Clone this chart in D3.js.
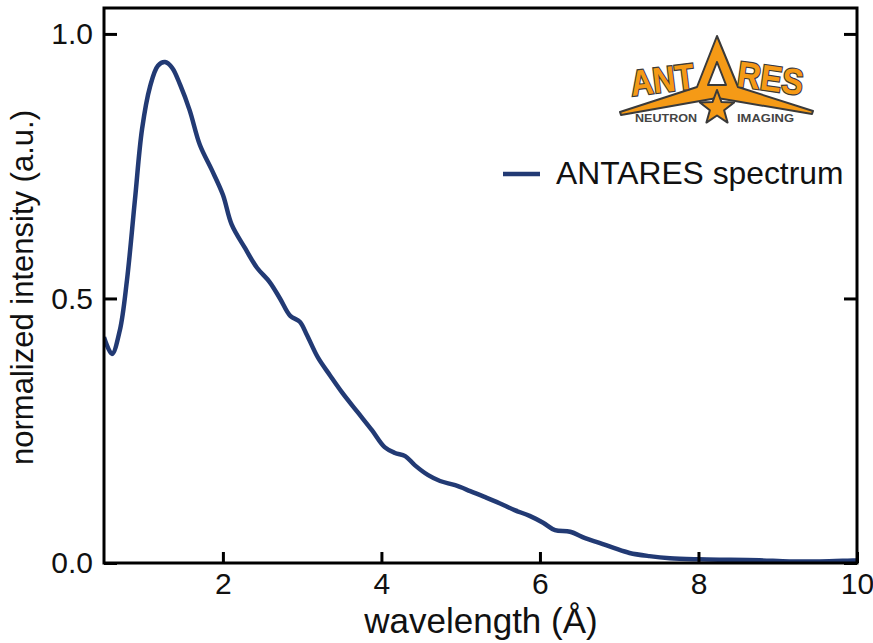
<!DOCTYPE html>
<html>
<head>
<meta charset="utf-8">
<script src="https://cdn.jsdelivr.net/npm/d3@7"></script>
<style>
    body { margin: 0; background: #fff; }
    svg { display: block; }
    text { font-family: "Liberation Sans", Arial, sans-serif; }
</style>
</head>
<body>
<svg width="873" height="643"></svg>
<script>
"use strict"

// wavelength (Angstrom) and normalized intensity
const wavelength = [0.5, 0.6, 0.7, 0.79, 0.89, 0.98, 1.08, 1.18, 1.27, 1.36, 1.46, 1.58, 1.71, 1.86, 2.0,
    2.11, 2.28, 2.43, 2.59, 2.72, 2.85, 2.97, 3.06, 3.2, 3.35, 3.51, 3.7, 3.88, 4.04, 4.17, 4.3, 4.42,
    4.59, 4.74, 4.93, 5.12, 5.3, 5.49, 5.68, 5.87, 6.04, 6.19, 6.38, 6.57, 6.75, 6.94, 7.13, 7.38, 7.64,
    8.0, 8.4, 8.77, 9.15, 9.53, 10.0]
const intensity = [0.427, 0.395, 0.44, 0.535, 0.686, 0.82, 0.9, 0.94, 0.947, 0.936, 0.904, 0.856, 0.79, 0.743, 0.696,
    0.64, 0.595, 0.558, 0.531, 0.5, 0.467, 0.456, 0.431, 0.388, 0.355, 0.321, 0.285, 0.251, 0.219, 0.208, 0.202, 0.185,
    0.166, 0.155, 0.147, 0.136, 0.125, 0.113, 0.1, 0.089, 0.076, 0.062, 0.059, 0.047, 0.038, 0.028, 0.019, 0.013, 0.009,
    0.007, 0.006, 0.005, 0.003, 0.003, 0.005]

const xTicks = [2, 4, 6, 8, 10]
const yTicks = [0, 0.5, 1.0]
const seriesName = "ANTARES spectrum"

const svg = d3.select("svg")
const M = { left: 104, right: 857, top: 8, bottom: 563 }

const x = d3.scaleLinear().domain([0.5, 10]).range([M.left, M.right])
const y = d3.scaleLinear().domain([0, 1.049]).range([M.bottom, M.top])

svg.append("clipPath").attr("id", "plot")
    .append("rect").attr("x", M.left).attr("y", M.top)
    .attr("width", M.right - M.left).attr("height", M.bottom - M.top)

const points = wavelength.map((w, i) => [w, intensity[i]])
const line = d3.line()
    .x((d) => x(d[0]))
    .y((d) => y(d[1]))
    .curve(d3.curveCatmullRom)

svg.append("path")
    .datum(points)
    .attr("clip-path", "url(#plot)")
    .attr("fill", "none")
    .attr("stroke", "#223a74")
    .attr("stroke-width", 4.5)
    .attr("stroke-linejoin", "round")
    .attr("d", line)

// axes, ticks pointing inward
const styleAxis = (g) => {
    g.select(".domain").remove()
    g.selectAll(".tick line").attr("stroke", "#000").attr("stroke-width", 3)
    g.selectAll(".tick text").attr("font-size", "30px").attr("fill", "#111")
        .attr("font-family", "Liberation Sans, Arial, sans-serif")
}

svg.append("g")
    .attr("transform", `translate(0,${M.bottom})`)
    .call(d3.axisBottom(x).tickValues(xTicks).tickFormat(d3.format("d")).tickSizeInner(-11).tickPadding(10))
    .call(styleAxis)

svg.append("g")
    .attr("transform", `translate(${M.left},0)`)
    .call(d3.axisLeft(y).tickValues(yTicks).tickFormat(d3.format(".1f")).tickSizeInner(-13).tickPadding(11))
    .call(styleAxis)

svg.append("g")
    .attr("transform", `translate(${M.right},0)`)
    .call(d3.axisRight(y).tickValues(yTicks).tickFormat("").tickSizeInner(-13))
    .call(styleAxis)

svg.append("rect")
    .attr("x", M.left).attr("y", M.top)
    .attr("width", M.right - M.left).attr("height", M.bottom - M.top)
    .attr("fill", "none").attr("stroke", "#000").attr("stroke-width", 3)

svg.append("text")
    .attr("x", 481).attr("y", 633)
    .attr("text-anchor", "middle").attr("font-size", "35px").attr("fill", "#111")
    .text("wavelength (Å)")

svg.append("text")
    .attr("transform", `translate(33,${(M.top + M.bottom) / 2 + 2}) rotate(-90)`)
    .attr("text-anchor", "middle").attr("font-size", "31px").attr("fill", "#111")
    .text("normalized intensity (a.u.)")

// legend
svg.append("line")
    .attr("x1", 503).attr("x2", 540).attr("y1", 174).attr("y2", 174)
    .attr("stroke", "#223a74").attr("stroke-width", 4.5)
svg.append("text")
    .attr("x", 556).attr("y", 184)
    .attr("font-size", "31.8px").attr("fill", "#111")
    .text(seriesName)

// ANTARES logo
const logo = svg.append("g")
const orange = "#f59a16", dark = "#3a3a3a"

logo.append("path")
    .attr("d", "M620,112 L697,87 L717,36 L738,87 L813,111 L812,114 L735,101 L717,98 L700,101 L621,115 Z" +
        " M717,62 L708,85 L726,85 Z")
    .attr("fill", orange).attr("fill-rule", "evenodd")
    .attr("stroke", dark).attr("stroke-width", 2).attr("stroke-linejoin", "round")

const star = d3.range(10).map((i) => {
    const r = i % 2 === 0 ? 18 : 7.5
    const a = -Math.PI / 2 + i * Math.PI / 5
    return [717 + r * Math.cos(a), 108 + r * Math.sin(a)]
})
logo.append("path")
    .attr("d", d3.line()(star) + "Z")
    .attr("fill", orange).attr("stroke", dark).attr("stroke-width", 2).attr("stroke-linejoin", "round")

logo.append("text")
    .attr("transform", "translate(632,96) rotate(-7)")
    .attr("font-family", "DejaVu Sans, sans-serif").attr("font-weight", "bold")
    .attr("font-size", "36px").attr("fill", orange)
    .attr("stroke", dark).attr("stroke-width", 2.4).attr("paint-order", "stroke")
    .attr("textLength", 64).attr("lengthAdjust", "spacingAndGlyphs")
    .text("ANT")
logo.append("text")
    .attr("transform", "translate(736,86) rotate(8)")
    .attr("font-family", "DejaVu Sans, sans-serif").attr("font-weight", "bold")
    .attr("font-size", "36px").attr("fill", orange)
    .attr("stroke", dark).attr("stroke-width", 2.4).attr("paint-order", "stroke")
    .attr("textLength", 66).attr("lengthAdjust", "spacingAndGlyphs")
    .text("RES")

logo.append("text")
    .attr("x", 635).attr("y", 122)
    .attr("font-family", "DejaVu Sans, sans-serif").attr("font-weight", "bold")
    .attr("font-size", "10px").attr("fill", "#444")
    .attr("textLength", 62).attr("lengthAdjust", "spacingAndGlyphs")
    .text("NEUTRON")
logo.append("text")
    .attr("x", 737).attr("y", 122)
    .attr("font-family", "DejaVu Sans, sans-serif").attr("font-weight", "bold")
    .attr("font-size", "10px").attr("fill", "#444")
    .attr("textLength", 57).attr("lengthAdjust", "spacingAndGlyphs")
    .text("IMAGING")
</script>
</body>
</html>
